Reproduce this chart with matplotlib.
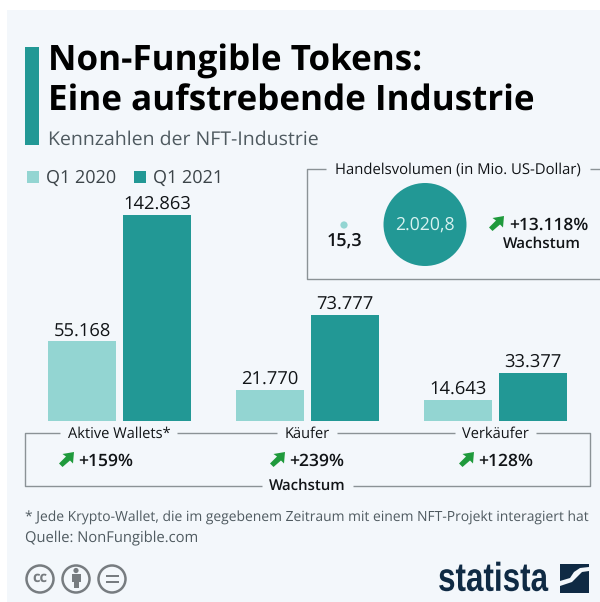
"""Statista NFT key figures: bars plus a small bubble comparison."""
import matplotlib
matplotlib.use("Agg")
import matplotlib.pyplot as plt
from matplotlib.patches import Circle, Polygon, Rectangle
from matplotlib.patheffects import AbstractPathEffect
from matplotlib.transforms import Affine2D

plt.rcParams["font.family"] = ["Open Sans", "DejaVu Sans"]
plt.rcParams["text.hinting"] = "none"

categories = ["Aktive Wallets*", "Käufer", "Verkäufer"]
q1_2020 = [55168, 21770, 14643]
q1_2021 = [142863, 73777, 33377]
growth = ["+159%", "+239%", "+128%"]
volume = [15.3, 2020.8]
volume_labels = ["15,3", "2.020,8"]
volume_growth = "+13.118%"

LIGHT = "#93d5d2"
TEAL = "#229895"
GREEN = "#1f9a3c"
DARK = "#111417"
GREY = "#4f5a60"
LEGEND = "#3c4449"
LINE = "#8b9296"
PANEL = "#f3f7fb"
NAVY = "#0f2a44"
BADGE = "#777c80"
W, H = 600, 602


class Squeeze(AbstractPathEffect):
    # narrows the logo text around a fixed right edge (display pixels)
    def __init__(self, x0, sx):
        self.x0 = x0
        self.sx = sx

    def draw_path(self, renderer, gc, tpath, affine, rgbFace=None):
        squeeze = Affine2D().translate(-self.x0, 0).scale(self.sx, 1).translate(self.x0, 0)
        renderer.draw_path(gc, tpath, affine + squeeze, rgbFace)


def line(ax, xs, ys):
    ax.plot(xs, ys, color=LINE, lw=1.0, solid_capstyle="butt", zorder=2)


def arrow(ax, x, y):
    # green up-right arrow, x/y is the lower left end
    pts = [(0, 11.5), (7, 4.5), (3.5, 2), (15, 0), (14, 11.5), (11, 8.5), (3.5, 15)]
    ax.add_patch(Polygon([(x + a, y - 15 + b) for a, b in pts],
                         closed=True, color=GREEN, lw=0, zorder=3))


def main():
    fig = plt.figure(figsize=(W / 100, H / 100), dpi=100, facecolor="white")

    ov = fig.add_axes([0, 0, 1, 1])
    ov.set_xlim(0, W)
    ov.set_ylim(H, 0)
    ov.axis("off")
    ov.add_patch(Rectangle((7, 10), W - 7, H - 10, color=PANEL, lw=0, zorder=0))

    # header
    ov.add_patch(Rectangle((25, 47), 14, 98, color=TEAL, lw=0))
    ov.text(48, 61.5, "Non-Fungible Tokens:", fontsize=25.2, fontweight="bold",
            color="black", va="center")
    ov.text(48, 102, "Eine aufstrebende Industrie", fontsize=25.2,
            fontweight="bold", color="black", va="center")
    ov.text(48, 140, "Kennzahlen der NFT-Industrie", fontsize=14, color=GREY,
            va="center")

    # legend
    ov.add_patch(Rectangle((27, 171), 12, 12, color=LIGHT, lw=0))
    ov.text(46, 178, "Q1 2020", fontsize=13, color=LEGEND, va="center")
    ov.add_patch(Rectangle((134, 171), 12, 12, color=TEAL, lw=0))
    ov.text(153, 178, "Q1 2021", fontsize=13, color=LEGEND, va="center")

    # bars
    ax = fig.add_axes([25.5 / W, (H - 421) / H, 564 / W, 206 / H])
    ax.patch.set_alpha(0)
    ax.set_xlim(-0.5, 2.5)
    ax.set_ylim(0, max(q1_2021))
    ax.axis("off")
    offs = 37.5 / 188
    wid = 68 / 188
    pos = range(len(categories))
    b1 = ax.bar([p - offs for p in pos], q1_2020, wid, color=LIGHT)
    b2 = ax.bar([p + offs for p in pos], q1_2021, wid, color=TEAL)
    for bars, vals in ((b1, q1_2020), (b2, q1_2021)):
        for r, v in zip(bars, vals):
            ax.annotate(f"{v:,}".replace(",", "."),
                        (r.get_x() + r.get_width() / 2, v), xytext=(0, 1.2),
                        textcoords="offset points", ha="center", va="bottom",
                        fontsize=13.2, color=DARK, annotation_clip=False)

    # lower frame
    line(ov, [60, 25, 25, 262], [433, 433, 485.5, 485.5])
    line(ov, [177, 277], [433, 433])
    line(ov, [337, 455], [433, 433])
    line(ov, [536, 590, 590, 353], [433, 433, 485.5, 485.5])
    centers = [119.5, 307, 495]
    for c, name, g, ax_x in zip(centers, categories, growth, [59, 270, 459]):
        ov.text(c, 434, name, fontsize=10.5, color=DARK, ha="center", va="center")
        arrow(ov, ax_x, 467)
        ov.text(ax_x + 19, 461, g, fontsize=12.6, fontweight="semibold", color=DARK,
                va="center")
    ov.text(307, 486, "Wachstum", fontsize=10.8, fontweight="semibold",
            color=DARK, ha="center", va="center")

    # upper right frame
    line(ov, [326, 307, 307, 600], [169, 169, 279, 279])
    line(ov, [590, 600], [169, 169])
    ov.text(458, 170, "Handelsvolumen (in Mio. US-Dollar)", fontsize=10.7,
            color=DARK, ha="center", va="center")
    # bubble area follows the value
    k = 3570 / volume[1]
    ov.scatter([344, 425], [225, 224.5], s=[v * k for v in volume],
               c=[LIGHT, TEAL], linewidths=0, zorder=3)
    ov.text(344, 241.5, volume_labels[0], fontsize=13, fontweight="semibold",
            color=DARK, ha="center", va="center")
    ov.text(425, 225, volume_labels[1], fontsize=12.7, color="#d8f2f0",
            ha="center", va="center", zorder=4)
    arrow(ov, 489, 231)
    ov.text(509, 225, volume_growth, fontsize=12.5, fontweight="semibold", color=DARK,
            va="center")
    ov.text(542, 244, "Wachstum", fontsize=11, fontweight="semibold", color=DARK,
            ha="center", va="center")

    # notes
    ov.text(25, 518, "* Jede Krypto-Wallet, die im gegebenem Zeitraum mit einem "
            "NFT-Projekt interagiert hat", fontsize=10.03, color=GREY, va="center")
    ov.text(25, 539, "Quelle: NonFungible.com", fontsize=10.6, color=GREY,
            va="center")

    # licence badges
    for cx in (40, 76, 112):
        ov.add_patch(Circle((cx, 579), 13.5, fc="none", ec=BADGE, lw=1.8))
    ov.text(40, 578, "cc", fontsize=10.5, fontweight="bold", color=BADGE,
            ha="center", va="center")
    ov.add_patch(Circle((76, 570.5), 2.6, color=BADGE, lw=0))
    ov.add_patch(Rectangle((71.5, 574), 9, 7.5, color=BADGE, lw=0))
    ov.add_patch(Rectangle((73.5, 581), 5, 7, color=BADGE, lw=0))
    ov.add_patch(Rectangle((105.5, 574.5), 13, 2.6, color=BADGE, lw=0))
    ov.add_patch(Rectangle((105.5, 580.5), 13, 2.6, color=BADGE, lw=0))

    # logo
    ov.text(548, 580.5, "statista", fontsize=29, fontweight="bold",
            family=["Liberation Sans", "DejaVu Sans"], color=NAVY,
            ha="right", va="center", path_effects=[Squeeze(548, 0.78)])
    ov.add_patch(Rectangle((560, 564), 29, 29, color=NAVY, lw=0))
    ov.add_patch(Polygon([(560, 581), (570, 578), (574, 572), (580, 568), (589, 567),
                          (589, 571), (582, 572), (577, 577), (572, 582), (560, 586)],
                         closed=True, color=PANEL, lw=0))

    fig.savefig("out.png", dpi=100, facecolor="white")


if __name__ == "__main__":
    main()
